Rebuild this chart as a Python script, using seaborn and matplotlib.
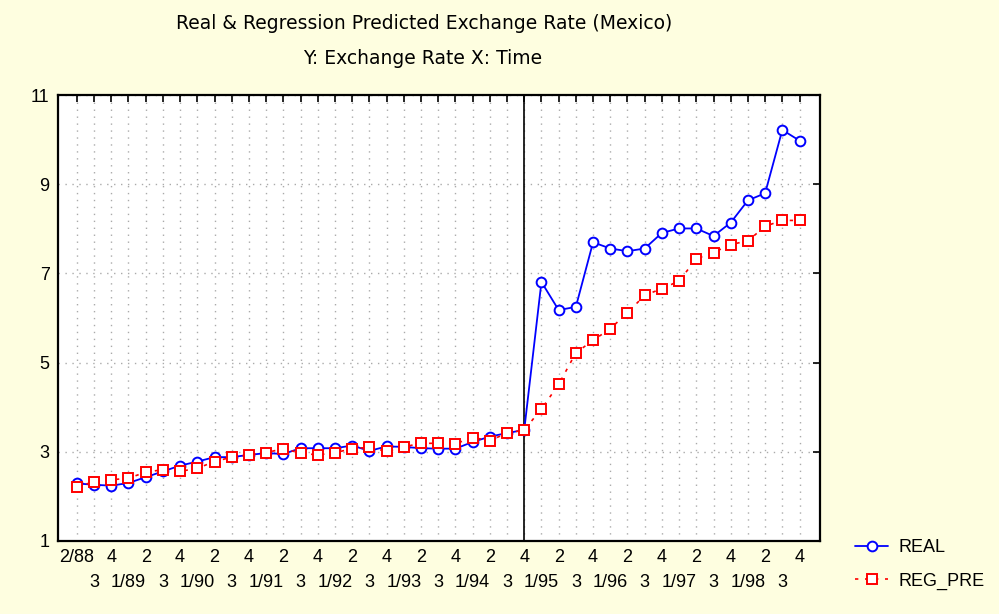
import matplotlib
matplotlib.use("Agg")
import matplotlib.pyplot as plt
import seaborn as sns
import pandas as pd
import numpy as np

quarters = ["2/88", "3", "4",
            "1/89", "2", "3", "4",
            "1/90", "2", "3", "4",
            "1/91", "2", "3", "4",
            "1/92", "2", "3", "4",
            "1/93", "2", "3", "4",
            "1/94", "2", "3", "4",
            "1/95", "2", "3", "4",
            "1/96", "2", "3", "4",
            "1/97", "2", "3", "4",
            "1/98", "2", "3", "4"]

real = [2.29, 2.26, 2.24, 2.30, 2.43, 2.56, 2.69, 2.78, 2.88, 2.88,
        2.93, 2.97, 2.95, 3.08, 3.08, 3.08, 3.14, 3.02, 3.12, 3.11,
        3.08, 3.07, 3.07, 3.22, 3.34, 3.42, 3.49, 6.81, 6.18, 6.25,
        7.70, 7.56, 7.50, 7.56, 7.91, 8.01, 8.01, 7.84, 8.14, 8.64,
        8.80, 10.22, 9.98]

reg_pre = [2.21, 2.33, 2.37, 2.41, 2.54, 2.60, 2.56, 2.63, 2.78, 2.88,
           2.93, 2.98, 3.07, 2.97, 2.93, 2.98, 3.07, 3.10, 3.01, 3.11,
           3.19, 3.19, 3.18, 3.32, 3.25, 3.42, 3.49, 3.96, 4.51, 5.22,
           5.50, 5.76, 6.12, 6.51, 6.66, 6.83, 7.33, 7.47, 7.65, 7.73,
           8.06, 8.19, 8.19]

break_quarter = 26  # 4/94
y_ticks = [1, 3, 5, 7, 9, 11]

df = pd.DataFrame({"t": np.arange(len(quarters)), "REAL": real, "REG_PRE": reg_pre})

sns.set_style("white")
plt.rcParams["font.family"] = ["Liberation Sans", "DejaVu Sans"]
plt.rcParams["text.color"] = "black"

fig = plt.figure(figsize=(9.99, 6.14), dpi=100, facecolor="#FEFEE0")
ax = fig.add_axes([0.058, 0.119, 0.763, 0.726])
ax.set_facecolor("white")

sns.lineplot(data=df, x="t", y="REAL", ax=ax, color="#0000FF", linewidth=1.3,
             marker="o", markersize=7, markerfacecolor="white",
             markeredgecolor="#0000FF", markeredgewidth=1.4, label="REAL")
sns.lineplot(data=df, x="t", y="REG_PRE", ax=ax, color="#FF0000", linewidth=1.2,
             marker="s", markersize=7, markerfacecolor="white",
             markeredgecolor="#FF0000", markeredgewidth=1.4, label="REG_PRE",
             dashes=False)
ax.lines[-1].set_dashes([2, 4])

ax.axvline(break_quarter, color="black", linewidth=1.2, zorder=1)

ax.set_xlim(-1.1, 43.2)
ax.set_ylim(1, 11)
ax.set_yticks(y_ticks)
ax.set_yticklabels([str(v) for v in y_ticks])
t = df["t"].to_numpy()
ax.set_xticks(t[::2])
ax.set_xticklabels(quarters[::2])
ax.set_xticks(t[1::2], minor=True)
ax.set_xticklabels(quarters[1::2], minor=True)
ax.set_xlabel("")
ax.set_ylabel("")

ax.grid(True, axis="both", which="major", linestyle=(0, (1, 4)), color="#AAAAAA", linewidth=1.0)
ax.grid(True, axis="x", which="minor", linestyle=(0, (1, 4)), color="#AAAAAA", linewidth=1.0)
ax.set_axisbelow(True)

ax.tick_params(axis="both", which="both", direction="in", length=5, width=1.2,
               top=True, right=True, labelsize=13, colors="black", labelcolor="black", pad=6)
ax.tick_params(axis="x", which="minor", pad=24)
for s in ax.spines.values():
    s.set_color("black")
    s.set_linewidth(1.6)
    s.set_visible(True)

fig.text(0.425, 0.962, "Real & Regression Predicted Exchange Rate (Mexico)",
         ha="center", va="center", fontsize=13.5, family="DejaVu Sans", color="black")
fig.text(0.423, 0.905, "Y: Exchange Rate X: Time", ha="center", va="center",
         fontsize=13.5, family="DejaVu Sans", color="black")

leg = ax.legend(loc="upper left", bbox_to_anchor=(1.025, 0.04), frameon=False,
                fontsize=13, handlelength=1.8, labelspacing=0.9, handletextpad=0.6)
for txt in leg.get_texts():
    txt.set_color("black")

fig.savefig("out.png", dpi=100, facecolor=fig.get_facecolor())
